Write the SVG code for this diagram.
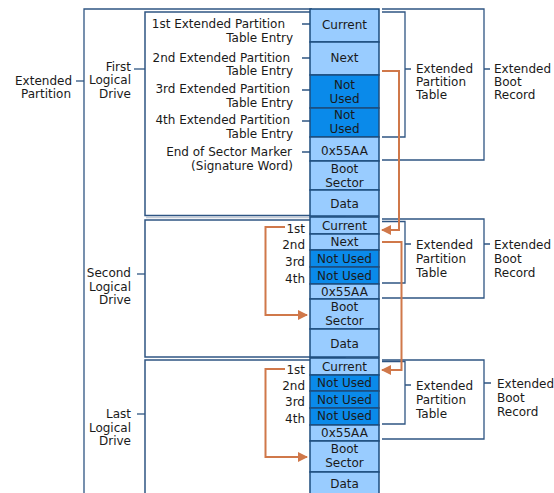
<svg xmlns="http://www.w3.org/2000/svg" width="554" height="493" viewBox="0 0 554 493">
  <defs>
    <style>
      text { font-family: "DejaVu Sans", Verdana, sans-serif; font-size: 12px; fill: #1a1a1a; }
      .end { text-anchor: end; }
      .mid { text-anchor: middle; }
      .frame { fill: #ffffff; stroke: #2f5583; stroke-width: 1.5; }
      .shadow { fill: none; stroke: #c5ccd6; stroke-width: 1.5; }
      .line { fill: none; stroke: #2f5583; stroke-width: 1.3; }
      .cell { fill: #99ccff; stroke: #1d4c7e; stroke-width: 1.5; }
      .unused { fill: #0a8aea; stroke: #1d4c7e; stroke-width: 1.5; }
      .link { fill: none; stroke: #d0784a; stroke-width: 2; }
    </style>
    <marker id="head" viewBox="0 0 10 10" refX="9" refY="5" markerWidth="5" markerHeight="5" orient="auto">
      <path d="M0,0 L10,5 L0,10 z" fill="#d0784a"/>
    </marker>
  </defs>

  <rect width="554" height="493" fill="#ffffff"/>

  <!-- Extended partition: outer frame and label -->
  <g id="extended-partition">
    <path class="line" d="M84,500 V9 H312"/>
    <path class="line" d="M76,81 H84"/>
    <text class="end" x="72" y="84.5">Extended</text>
    <text class="end" x="71" y="98">Partition</text>
  </g>

  <!-- First logical drive -->
  <g id="drive-1">
    <line class="shadow" x1="146" y1="217.5" x2="312" y2="217.5"/>
    <rect class="frame" x="145" y="12" width="200" height="203.5"/>
    <path class="line" d="M134,69 H145"/>
    <text class="end" x="131" y="71">First</text>
    <text class="end" x="131" y="84">Logical</text>
    <text class="end" x="131" y="98">Drive</text>

    <text class="end" x="285" y="28">1st Extended Partition</text>
    <text class="end" x="293" y="41.5">Table Entry</text>
    <text class="end" x="290" y="61.5">2nd Extended Partition</text>
    <text class="end" x="293" y="75">Table Entry</text>
    <text class="end" x="290" y="93">3rd Extended Partition</text>
    <text class="end" x="293" y="106.5">Table Entry</text>
    <text class="end" x="290" y="124">4th Extended Partition</text>
    <text class="end" x="293" y="137.5">Table Entry</text>
    <text class="end" x="292" y="156">End of Sector Marker</text>
    <text class="end" x="293" y="169.5">(Signature Word)</text>
    <path class="line" d="M302,24 H310 M302,58 H310 M302,90 H310 M302,121 H310 M302,152 H310"/>

    <rect class="cell" x="310" y="9" width="69" height="33"/>
    <rect class="cell" x="310" y="42" width="69" height="33"/>
    <rect class="unused" x="310" y="75" width="69" height="33"/>
    <rect class="unused" x="310" y="108" width="69" height="29"/>
    <rect class="cell" x="310" y="137" width="69" height="24"/>
    <rect class="cell" x="310" y="161" width="69" height="29"/>
    <rect class="cell" x="310" y="190" width="69" height="26"/>
    <text class="mid" x="344.5" y="29">Current</text>
    <text class="mid" x="344.5" y="62">Next</text>
    <text class="mid" x="344.5" y="88.5">Not</text>
    <text class="mid" x="344.5" y="102.5">Used</text>
    <text class="mid" x="344.5" y="119">Not</text>
    <text class="mid" x="344.5" y="133">Used</text>
    <text class="mid" x="344.5" y="154.5">0x55AA</text>
    <text class="mid" x="344.5" y="173">Boot</text>
    <text class="mid" x="344.5" y="187">Sector</text>
    <text class="mid" x="344.5" y="208">Data</text>

    <path class="line" d="M382,12 H405 V137 H382 M405,69 H411"/>
    <text x="416" y="73">Extended</text>
    <text x="416" y="86">Partition</text>
    <text x="416" y="99">Table</text>
    <path class="line" d="M382,9 H484 V160 H382 M484,69 H490"/>
    <text x="494" y="73">Extended</text>
    <text x="494" y="86">Boot</text>
    <text x="494" y="99">Record</text>
  </g>

  <!-- Second logical drive -->
  <g id="drive-2">
    <rect class="frame" x="145" y="220" width="200" height="137"/>
    <path class="line" d="M137,274 H145"/>
    <text class="end" x="131" y="277">Second</text>
    <text class="end" x="131" y="290.5">Logical</text>
    <text class="end" x="131" y="304">Drive</text>

    <text class="end" x="305" y="233">1st</text>
    <text class="end" x="305" y="249">2nd</text>
    <text class="end" x="305" y="266">3rd</text>
    <text class="end" x="305" y="282.5">4th</text>

    <rect class="cell" x="310" y="217" width="69" height="17"/>
    <rect class="cell" x="310" y="234" width="69" height="16"/>
    <rect class="unused" x="310" y="250" width="69" height="17"/>
    <rect class="unused" x="310" y="267" width="69" height="17"/>
    <rect class="cell" x="310" y="284" width="69" height="15"/>
    <rect class="cell" x="310" y="299" width="69" height="30"/>
    <rect class="cell" x="310" y="329" width="69" height="28"/>
    <text class="mid" x="344.5" y="229.5">Current</text>
    <text class="mid" x="344.5" y="246">Next</text>
    <text class="mid" x="344.5" y="262.5">Not Used</text>
    <text class="mid" x="344.5" y="279.5">Not Used</text>
    <text class="mid" x="344.5" y="295.5">0x55AA</text>
    <text class="mid" x="344.5" y="310.5">Boot</text>
    <text class="mid" x="344.5" y="324.5">Sector</text>
    <text class="mid" x="344.5" y="347.5">Data</text>

    <path class="line" d="M382,221.5 H405 V283 H382 M405,244 H411"/>
    <text x="416" y="249">Extended</text>
    <text x="416" y="263">Partition</text>
    <text x="416" y="277">Table</text>
    <path class="line" d="M382,219 H484 V298 H382 M484,244 H490"/>
    <text x="494" y="249">Extended</text>
    <text x="494" y="263">Boot</text>
    <text x="494" y="277">Record</text>
  </g>

  <!-- Last logical drive -->
  <g id="drive-3">
    <rect class="frame" x="145" y="360" width="200" height="145"/>
    <path class="line" d="M137,414 H145"/>
    <text class="end" x="131" y="418">Last</text>
    <text class="end" x="131" y="431.5">Logical</text>
    <text class="end" x="131" y="445">Drive</text>

    <text class="end" x="305" y="373.5">1st</text>
    <text class="end" x="305" y="389.5">2nd</text>
    <text class="end" x="305" y="406">3rd</text>
    <text class="end" x="305" y="422.5">4th</text>

    <rect class="cell" x="310" y="358" width="69" height="17"/>
    <rect class="unused" x="310" y="375" width="69" height="16"/>
    <rect class="unused" x="310" y="391" width="69" height="17"/>
    <rect class="unused" x="310" y="408" width="69" height="17"/>
    <rect class="cell" x="310" y="425" width="69" height="16"/>
    <rect class="cell" x="310" y="441" width="69" height="31"/>
    <rect class="cell" x="310" y="472" width="69" height="30"/>
    <text class="mid" x="344.5" y="370.5">Current</text>
    <text class="mid" x="344.5" y="387">Not Used</text>
    <text class="mid" x="344.5" y="403.5">Not Used</text>
    <text class="mid" x="344.5" y="420">Not Used</text>
    <text class="mid" x="344.5" y="436.5">0x55AA</text>
    <text class="mid" x="344.5" y="452.5">Boot</text>
    <text class="mid" x="344.5" y="466.5">Sector</text>
    <text class="mid" x="344.5" y="487.5">Data</text>

    <path class="line" d="M382,361.5 H405 V424 H382 M405,385 H411"/>
    <text x="416" y="390">Extended</text>
    <text x="416" y="404">Partition</text>
    <text x="416" y="418">Table</text>
    <path class="line" d="M382,360 H484 V439 H382 M484,383 H491"/>
    <text x="497" y="388">Extended</text>
    <text x="497" y="402">Boot</text>
    <text x="497" y="416">Record</text>
  </g>

  <!-- Chain links between boot records and to boot sectors -->
  <g id="connectors">
    <path class="link" d="M382,71 H399 V230 H382" marker-end="url(#head)"/>
    <path class="link" d="M382,242 H401.5 V370 H382" marker-end="url(#head)"/>
    <path class="link" d="M285,227 H265.5 V315 H307" marker-end="url(#head)"/>
    <path class="link" d="M285,369 H265.5 V457 H307" marker-end="url(#head)"/>
  </g>
</svg>
